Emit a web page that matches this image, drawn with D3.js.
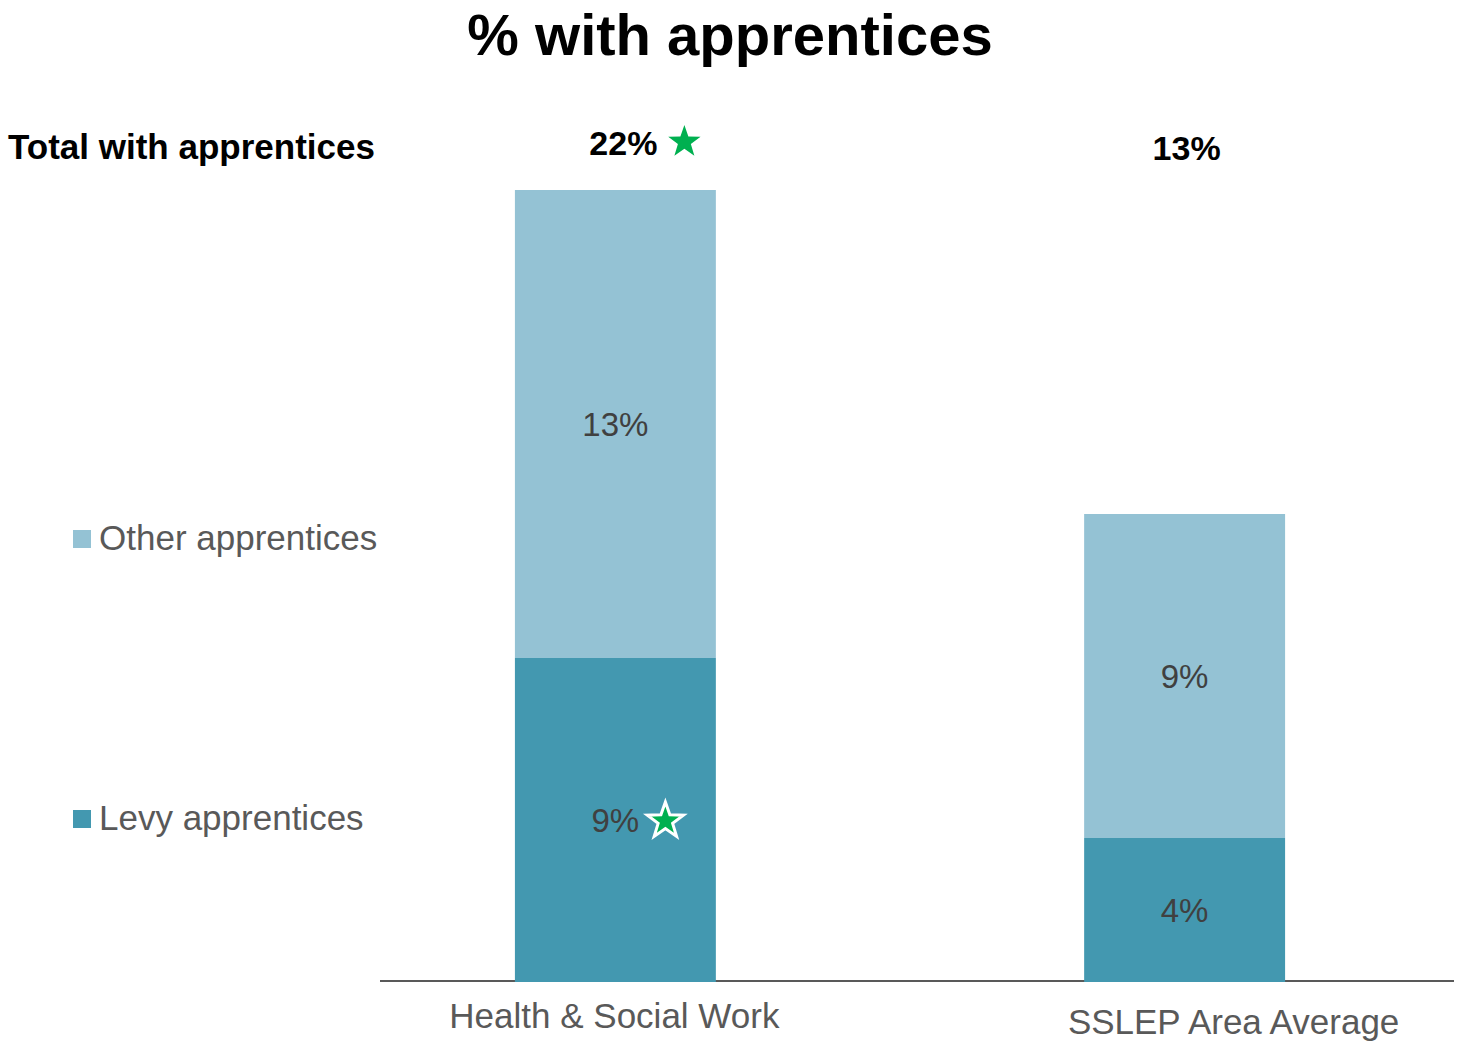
<!DOCTYPE html>
<html>
<head>
<meta charset="utf-8">
<script src="https://cdn.jsdelivr.net/npm/d3@7"></script>
<style>
  html, body { margin: 0; padding: 0; background: #fff; }
  svg { display: block; font-family: "Liberation Sans", Arial, sans-serif; }
</style>
</head>
<body>
<svg id="chart" width="1460" height="1044"></svg>
<script>
// Chart data
const categories = ["Health & Social Work", "SSLEP Area Average"];
const seriesNames = ["Levy apprentices", "Other apprentices"];
const levyValues = [9, 4];
const otherValues = [13, 9];
const totalLabels = ["22%", "13%"];
const highlightTotal = [true, false];
const highlightLevy = [true, false];

const colors = { "Levy apprentices": "#4398B0", "Other apprentices": "#94C2D4" };

const svg = d3.select("#chart");

const x = d3.scaleBand().domain(categories).range([380, 1420])
  .paddingInner(0.647).paddingOuter(0.237);
const y = d3.scaleLinear().domain([0, 22]).range([982, 190]);

const rows = categories.map((c, i) => ({
  category: c,
  "Levy apprentices": levyValues[i],
  "Other apprentices": otherValues[i]
}));
const stacked = d3.stack().keys(seriesNames)(rows);

// Title
svg.append("text")
  .attr("x", 730).attr("y", 55)
  .attr("text-anchor", "middle")
  .attr("font-size", 58).attr("font-weight", "bold").attr("fill", "#000")
  .text("% with apprentices");

// Baseline axis
svg.append("line")
  .attr("x1", 380).attr("x2", 1454)
  .attr("y1", 981).attr("y2", 981)
  .attr("stroke", "#595959").attr("stroke-width", 2);

// Stacked bars (drawn over the axis line)
const layer = svg.append("g");
stacked.forEach(s => {
  layer.selectAll(null).data(s).join("rect")
    .attr("x", d => x(d.data.category))
    .attr("width", x.bandwidth())
    .attr("y", d => y(d[1]))
    .attr("height", d => y(d[0]) - y(d[1]))
    .attr("fill", colors[s.key]);
});

// Segment value labels
stacked.forEach(s => {
  svg.selectAll(null).data(s).join("text")
    .attr("x", d => x(d.data.category) + x.bandwidth() / 2)
    .attr("y", d => (y(d[0]) + y(d[1])) / 2 + 12)
    .attr("text-anchor", "middle")
    .attr("font-size", 33).attr("fill", "#404040")
    .text(d => (d[1] - d[0]) + "%");
});

// Five-pointed star path
function starPath(cx, cy, R) {
  const r = R * 0.4;
  const pts = [];
  for (let k = 0; k < 10; k++) {
    const a = -Math.PI / 2 + k * Math.PI / 5;
    const rad = k % 2 === 0 ? R : r;
    pts.push([cx + rad * Math.cos(a), cy + rad * Math.sin(a)]);
  }
  return "M" + pts.map(p => p.join(",")).join("L") + "Z";
}

// Significance star beside the Levy value
categories.forEach((c, i) => {
  if (!highlightLevy[i]) return;
  const cx = x(c) + x.bandwidth() / 2 + 50;
  const cy = (y(0) + y(levyValues[i])) / 2 + 1;
  svg.append("path").attr("d", starPath(cx, cy, 19))
    .attr("fill", "#00B050").attr("stroke", "#fff").attr("stroke-width", 3)
    .attr("stroke-linejoin", "miter");
});

// Totals row
svg.append("text")
  .attr("x", 8).attr("y", 159)
  .attr("font-size", 35).attr("font-weight", "bold").attr("fill", "#000")
  .text("Total with apprentices");

categories.forEach((c, i) => {
  const cx = x(c) + x.bandwidth() / 2;
  if (highlightTotal[i]) {
    svg.append("text")
      .attr("x", cx + 8).attr("y", 155)
      .attr("text-anchor", "middle")
      .attr("font-size", 34).attr("font-weight", "bold").attr("fill", "#000")
      .text(totalLabels[i]);
    svg.append("path").attr("d", starPath(cx + 69, 142, 17)).attr("fill", "#00B050");
  } else {
    svg.append("text")
      .attr("x", cx + 2).attr("y", 160)
      .attr("text-anchor", "middle")
      .attr("font-size", 34).attr("font-weight", "bold").attr("fill", "#000")
      .text(totalLabels[i]);
  }
});

// Category labels
const catShift = [{ dx: -1, baseline: 1028 }, { dx: 49, baseline: 1034 }];
categories.forEach((c, i) => {
  svg.append("text")
    .attr("x", x(c) + x.bandwidth() / 2 + catShift[i].dx)
    .attr("y", catShift[i].baseline)
    .attr("text-anchor", "middle")
    .attr("font-size", 35).attr("font-weight", "normal").attr("fill", "#595959")
    .text(c);
});

// Legend
const legendItems = [
  { name: "Other apprentices", y: 539 },
  { name: "Levy apprentices", y: 819 }
];
legendItems.forEach(it => {
  svg.append("rect").attr("x", 73).attr("y", it.y - 9).attr("width", 18).attr("height", 18)
    .attr("fill", colors[it.name]);
  svg.append("text").attr("x", 99).attr("y", it.y + 11)
    .attr("font-size", 35).attr("fill", "#595959")
    .text(it.name);
});
</script>
</body>
</html>
